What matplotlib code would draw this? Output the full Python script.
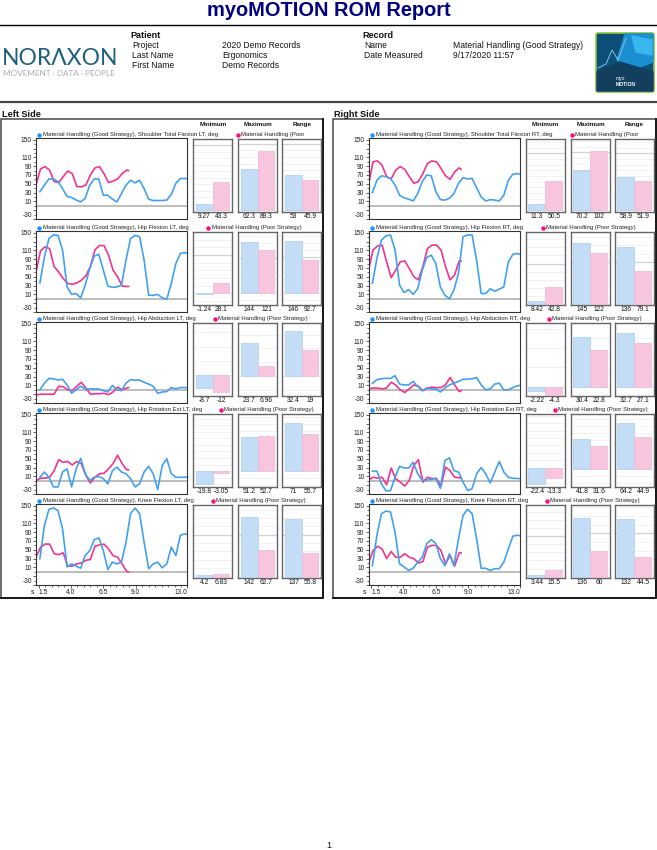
#!/usr/bin/env python3
import matplotlib
matplotlib.use("Agg")
import matplotlib.pyplot as plt
from matplotlib.patches import FancyBboxPatch, Polygon, Rectangle
from matplotlib.ticker import FixedLocator, MultipleLocator

plt.rcParams["font.family"] = ["Liberation Sans", "DejaVu Sans"]

WIDTH = 657
HEIGHT = 850

GOOD_T = [1.6, 1.95, 2.3, 2.65, 3.0, 3.35, 3.7, 4.05, 4.4, 4.75, 5.1, 5.45, 5.8, 6.15, 6.5, 6.85, 7.2,
          7.55, 7.9, 8.25, 8.6, 8.95, 9.3, 9.65, 10.0, 10.35, 10.7, 11.05, 11.4, 11.75, 12.1, 12.45, 12.8, 13.0]
POOR_T = [1.3, 1.65, 2.0, 2.35, 2.7, 3.05, 3.4, 3.75, 4.1, 4.45, 4.8, 5.15, 5.5, 5.85, 6.2, 6.55, 6.9,
          7.25, 7.6, 7.95, 8.3, 8.45]

# left side
L_SHOULDER_GOOD = [32, 47, 61, 61, 55, 39, 21, 19, 13, 9, 17, 47, 61, 61, 24, 24, 15, 9, 28, 47, 58, 52, 58, 39,
                   15, 12, 12, 12, 13, 26, 51, 62, 62, 61]
L_SHOULDER_POOR = [47, 84, 89, 81, 55, 53, 66, 79, 73, 44, 43, 47, 70, 86, 89, 73, 53, 56, 61, 73, 81, 80]
L_HIP_FLEX_GOOD = [36, 95, 137, 145, 144, 111, 27, 10, 12, 2, 31, 69, 97, 101, 65, 29, 26, 27, 31, 88, 137, 144,
                   141, 88, 8, 8, 10, 2, -1, 35, 80, 103, 105, 103]
L_HIP_FLEX_POOR = [61, 109, 118, 114, 73, 61, 46, 35, 33, 36, 42, 52, 73, 111, 121, 121, 99, 65, 50, 29, 28, 28]
L_HIP_ABD_GOOD = [0, 15, 26, 25, 22, 24, 11, -8, 0, 8, 2, 2, 2, 2, -2, -5, 10, 0, -2, 15, 23, 22, 22, 17, 13, 8,
                  -8, -5, -4, 5, 2, 5, 5, 4]
L_HIP_ABD_POOR = [-12, -10, -10, -10, -10, 8, 7, 0, -2, 8, 17, 4, -10, -9, -9, -8, -11, -5, 6, 0, 4, 5]
L_HIP_ROT_GOOD = [8, 20, 8, -14, -14, 20, 27, -14, 27, 51, 16, 1, 8, 10, 5, -7, 23, 31, 20, 16, 5, -14, -7, 20,
                  33, 16, -20, 35, 50, 16, 8, 8, 8, 9]
L_HIP_ROT_POOR = [0, 6, 6, 8, 23, 48, 42, 44, 36, 44, 39, 12, -5, 8, 16, 17, 27, 39, 58, 39, 25, 25]
L_KNEE_GOOD = [30, 105, 142, 145, 139, 98, 11, 18, 13, 8, 37, 48, 73, 77, 48, 5, 22, 18, 22, 67, 132, 145, 132,
               67, 7, 18, 22, 9, 18, 56, 37, 83, 86, 85]
L_KNEE_POOR = [33, 56, 63, 63, 41, 39, 43, 13, 13, 18, 20, 26, 28, 58, 61, 63, 52, 37, 33, 18, 1, 0]

# right side
R_SHOULDER_GOOD = [30, 58, 68, 66, 62, 47, 24, 18, 15, 11, 28, 55, 70, 68, 32, 14, 13, 17, 28, 51, 64, 61, 62, 41,
                   20, 11, 14, 13, 11, 24, 58, 72, 73, 72]
R_SHOULDER_POOR = [47, 100, 102, 92, 66, 61, 81, 89, 83, 66, 51, 55, 73, 96, 102, 100, 85, 68, 60, 77, 86, 83]
R_HIP_FLEX_GOOD = [35, 92, 133, 143, 145, 111, 31, 14, 21, 10, 23, 65, 94, 99, 80, 27, 8, 0, 20, 58, 141, 145, 145,
                   88, 12, 12, 23, 17, 22, 27, 84, 101, 103, 101]
R_HIP_FLEX_POOR = [65, 111, 120, 122, 84, 48, 65, 84, 86, 69, 50, 43, 73, 114, 122, 122, 111, 73, 43, 54, 86, 86]
R_HIP_ABD_GOOD = [15, 23, 25, 26, 26, 32, 13, 11, 11, 19, 8, -2, 4, 2, 2, -5, 4, 11, 15, 19, 24, 24, 25, 28, 11,
                  0, 2, 13, 15, 0, 0, 5, 9, 10]
R_HIP_ABD_POOR = [2, 4, 4, 2, 4, 17, 11, 0, -6, 2, 11, 8, -2, 4, 6, 5, 5, 11, 28, 11, -4, -2]
R_HIP_ROT_GOOD = [22, 22, -7, -23, -22, 8, 33, 29, 29, 42, 16, 1, 2, 3, 6, -17, 46, 52, 23, 20, -3, -22, -18, 16,
                  30, 16, -5, 20, 44, 20, 8, 6, 5, 5]
R_HIP_ROT_POOR = [2, 8, 6, 8, -9, 29, 5, -3, -12, 1, 35, 48, -3, 8, 5, 5, -12, 31, 23, 8, 7, 6]
R_KNEE_GOOD = [14, 83, 132, 138, 136, 90, 18, 11, 3, 8, 22, 33, 64, 73, 64, 30, 14, 41, 14, 75, 128, 142, 132, 75,
               8, 8, 3, 7, 7, 22, 52, 81, 83, 82]
R_KNEE_POOR = [20, 48, 58, 52, 30, 46, 33, 33, 41, 33, 30, 20, 23, 56, 60, 60, 48, 18, 37, 13, 43, 43]

ROW_NAMES_LEFT = ["Shoulder Total Flexion LT", "Hip Flexion LT", "Hip Abduction LT", "Hip Rotation Ext LT",
                  "Knee Flexion LT"]
ROW_NAMES_RIGHT = ["Shoulder Total Flexion RT", "Hip Flexion RT", "Hip Abduction RT", "Hip Rotation Ext RT",
                   "Knee Flexion RT"]

# printed min / max / range pairs under the bars
L_MIN = [(9.27, 43.3), (-1.24, 28.1), (-8.7, -12), (-19.8, -3.05), (4.2, 6.83)]
L_MAX = [(62.3, 89.3), (144, 121), (23.7, 6.96), (51.2, 52.7), (142, 62.7)]
L_RANGE = [(53, 45.9), (146, 92.7), (32.4, 19), (71, 55.7), (137, 55.8)]
R_MIN = [(11.3, 50.5), (8.42, 42.8), (-2.22, -4.3), (-22.4, -13.3), (3.44, 15.5)]
R_MAX = [(70.2, 102), (145, 122), (30.4, 22.8), (41.8, 31.6), (136, 60)]
R_RANGE = [(58.9, 51.9), (136, 79.1), (32.7, 27.1), (64.2, 44.9), (132, 44.5)]

# y limits of each bar box
L_MIN_LIM = [(-2.6, 110), (-30, 160), (-14.5, 36.6), (-24, 87), (-3.2, 170)]
L_MAX_LIM = [(-2.6, 107), (-33, 172), (-14.5, 38.4), (-23.5, 85), (-3.2, 171)]
L_RANGE_LIM = [(-2.6, 107), (-33, 171), (-14.5, 38.4), (-23, 85), (-3.2, 170)]
R_MIN_LIM = [(-3, 125), (-2.5, 178), (-4.8, 33), (-26, 72.5), (-3, 176)]
R_MAX_LIM = [(-3, 123), (-2.4, 172), (-5.5, 39), (-26, 76.6), (-3, 165)]
R_RANGE_LIM = [(-3, 125), (-2.4, 172), (-5.5, 39), (-26, 77), (-3, 165)]
GRID_STEPS = [10, 20, 10, 10, 20]

ROW_TOPS = [138, 231, 322, 413, 504]
L_POOR_DOT = [237.7, 208, 215, 221, 213]
R_POOR_DOT = [571.7, 542.7, 549, 555, 547]

Y_TICKS = [150, 130, 110, 90, 70, 50, 30, 10, -10, -30]
Y_LABELS = ["150", "", "110", "90", "70", "50", "30", "10", "", "-30"]
X_TICKS = [1.5, 4.0, 6.5, 9.0, 13.0]

GOOD_LINE = "#42a0f3"
POOR_LINE = "#f2348e"
GOOD_DOT = "#1e90ff"
POOR_DOT = "#ff0a80"
GOOD_BAR = "#c3ddf6"
POOR_BAR = "#f7c6de"
GOOD_EDGE = "#a8cdf0"
POOR_EDGE = "#efb6d4"
BOX_EDGE = "#666666"

fig = plt.figure(figsize=(WIDTH / 100, HEIGHT / 100), dpi=100, facecolor="white")


def px_axes(x0, y0, x1, y1, **kwargs):
    return fig.add_axes([x0 / WIDTH, 1 - y1 / HEIGHT, (x1 - x0) / WIDTH, (y1 - y0) / HEIGHT], **kwargs)


page = px_axes(0, 0, WIDTH, HEIGHT)
page.set_xlim(0, WIDTH)
page.set_ylim(HEIGHT, 0)
page.axis("off")


def label(x, y, text, size=6.15, **kwargs):
    kwargs.setdefault("va", "center")
    return page.text(x, y, text, fontsize=size, color=kwargs.pop("color", "#111111"), **kwargs)


def draw_header():
    label(328.5, 10.5, "myoMOTION ROM Report", size=14.4, weight="bold", color="#000080", ha="center")
    page.plot([0, WIDTH], [24.5, 24.5], color="black", lw=1.0)
    page.plot([0, WIDTH], [101.5, 101.5], color="#444444", lw=1.6)

    label(130, 35, "Patient", size=6.5, weight="bold")
    label(132, 45.5, "Project")
    label(132, 55.5, "Last Name")
    label(132, 65.5, "First Name")
    label(222, 45.5, "2020 Demo Records")
    label(222, 55.5, "Ergonomics")
    label(222, 65.5, "Demo Records")
    label(362, 35, "Record", size=6.5, weight="bold")
    label(364, 45.5, "Name")
    label(364, 55.5, "Date Measured")
    label(453, 45.5, "Material Handling (Good Strategy)")
    label(453, 55.5, "9/17/2020 11:57")

    label(2, 58, "NOR\u039bXON", size=16.5, color="#1d5f7d", family=["Lato", "DejaVu Sans"])
    label(3, 73, "MOVEMENT \u00b7 DATA \u00b7 PEOPLE", size=5.9, color="#a9adb0", family=["Lato", "DejaVu Sans"])

    # product thumbnail
    page.add_patch(FancyBboxPatch((596, 33), 58, 59, boxstyle="round,pad=0,rounding_size=2",
                                  facecolor="#0e4f78", edgecolor="#8cc63f", lw=1.2))
    page.add_patch(Polygon([(625, 34), (653, 34), (653, 62), (632, 70), (617, 60)], color="#1c8fd0"))
    page.add_patch(Polygon([(632, 36), (652, 40), (652, 55), (636, 52)], color="#38b6ee"))
    page.add_patch(Polygon([(597, 72), (620, 62), (653, 72), (653, 91), (597, 91)], color="#123f5e"))
    page.plot([598, 606, 612, 618, 626], [68, 64, 50, 60, 38], color="#7fc4ea", lw=0.7)
    label(616, 78, "myo", size=3.6, color="white")
    label(616, 84, "MOTION", size=3.6, color="white", weight="bold")

    label(328.5, 845, "1", size=6.6, ha="center")


def draw_line_chart(x0, x1, top, good, poor, last):
    ax = px_axes(x0, top, x1, top + 81)
    ax.axhline(0, color="#ababab", lw=1.1, zorder=1)
    ax.plot(POOR_T, poor, color=POOR_LINE, lw=1.2, zorder=2)
    ax.plot(GOOD_T, good, color=GOOD_LINE, lw=1.2, zorder=3)
    ax.set_xlim(1.3, 13.0)
    ax.set_ylim(-30, 154)

    ax.yaxis.set_major_locator(FixedLocator(Y_TICKS))
    ax.set_yticklabels(Y_LABELS)
    ax.tick_params(axis="y", labelsize=4.8, length=2.2, width=0.5, pad=0.8, colors="#222222")
    ax.yaxis.set_minor_locator(MultipleLocator(10))
    ax.tick_params(axis="y", which="minor", length=1.2, width=0.4)
    ax.get_yticklabels()[-1].set_va("bottom")

    if last:
        ax.set_xticks(X_TICKS)
        ax.set_xticklabels([f"{t:.1f}" for t in X_TICKS])
        ax.xaxis.set_minor_locator(MultipleLocator(0.5))
        ax.tick_params(axis="x", labelsize=4.8, length=2.4, width=0.5, pad=0.8, colors="#222222")
        ax.tick_params(axis="x", which="minor", length=1.3, width=0.4)
        ax.get_xticklabels()[0].set_ha("left")
        ax.get_xticklabels()[-1].set_ha("right")
    else:
        ax.set_xticks([])

    for spine in ax.spines.values():
        spine.set_color("#333333")
        spine.set_linewidth(0.8)


def draw_bar_box(x0, top, values, limits, step):
    ax = px_axes(x0, top + 1, x0 + 39, top + 74)
    ax.set_axisbelow(True)
    ax.bar([0, 1], values, width=1.0, color=[GOOD_BAR, POOR_BAR], edgecolor=[GOOD_EDGE, POOR_EDGE], lw=0.5, zorder=3)
    ax.set_xlim(-0.65, 1.65)
    ax.set_ylim(*limits)
    ax.yaxis.set_major_locator(MultipleLocator(step))
    ax.grid(True, axis="y", color="#f0f0f0", lw=0.6)
    if limits[1] > 100:
        ax.axhline(100, color="#d2d2d2", lw=0.9, zorder=2)
    ax.tick_params(left=False, bottom=False, labelleft=False, labelbottom=False)
    for spine in ax.spines.values():
        spine.set_color(BOX_EDGE)
        spine.set_linewidth(1.0)

    y = top + 78.5
    label(x0 + 11.5, y, f"{values[0]:g}", size=4.8, ha="center")
    label(x0 + 28.5, y, f"{values[1]:g}", size=4.8, ha="center")


def draw_side(frame_x0, frame_x1, title, x_shift, rows):
    label(frame_x0 + 0.5, 114, title, size=6.6, weight="bold")
    page.add_patch(Rectangle((frame_x0, 119), frame_x1 - frame_x0, 479, fill=False, edgecolor="#555555", lw=1.2))
    page.plot([frame_x0, frame_x1, frame_x1], [598, 598, 119], color="#111111", lw=1.3)

    x0, x1 = 36 + x_shift, 187.5 + x_shift
    box_x = [193 + x_shift, 238 + x_shift, 282 + x_shift]
    for x, name in zip(box_x, ["Minimum", "Maximum", "Range"]):
        label(x + 20, 124, name, size=4.5, weight="bold", ha="center")

    for i, row in enumerate(rows):
        top = ROW_TOPS[i]
        draw_line_chart(x0, x1, top, row["good"], row["poor"], i == len(rows) - 1)
        for x, values, limits in zip(box_x, row["bars"], row["limits"]):
            draw_bar_box(x, top, values, limits, GRID_STEPS[i])

        legend_y = top - 3.5
        page.plot(x0 + 3, legend_y, "o", color=GOOD_DOT, ms=3.2, mew=0)
        label(x0 + 7, legend_y, f"Material Handling (Good Strategy), {row['name']}, deg", size=4.35, color="#222222")
        page.plot(row["poor_dot"], legend_y, "o", color=POOR_DOT, ms=3.2, mew=0)
        text = "Material Handling (Poor" if i == 0 else "Material Handling (Poor Strategy)"
        label(row["poor_dot"] + 3.5, legend_y, text, size=4.35, color="#222222")

    label(x0 - 4, 593, "s", size=4.8, ha="center")


def build_rows(names, goods, poors, mins, maxs, ranges, min_lim, max_lim, range_lim, dots):
    rows = []
    for i in range(5):
        rows.append({
            "name": names[i],
            "good": goods[i],
            "poor": poors[i],
            "bars": [mins[i], maxs[i], ranges[i]],
            "limits": [min_lim[i], max_lim[i], range_lim[i]],
            "poor_dot": dots[i],
        })
    return rows


def main():
    draw_header()
    left_rows = build_rows(
        ROW_NAMES_LEFT,
        [L_SHOULDER_GOOD, L_HIP_FLEX_GOOD, L_HIP_ABD_GOOD, L_HIP_ROT_GOOD, L_KNEE_GOOD],
        [L_SHOULDER_POOR, L_HIP_FLEX_POOR, L_HIP_ABD_POOR, L_HIP_ROT_POOR, L_KNEE_POOR],
        L_MIN, L_MAX, L_RANGE, L_MIN_LIM, L_MAX_LIM, L_RANGE_LIM, L_POOR_DOT,
    )
    right_rows = build_rows(
        ROW_NAMES_RIGHT,
        [R_SHOULDER_GOOD, R_HIP_FLEX_GOOD, R_HIP_ABD_GOOD, R_HIP_ROT_GOOD, R_KNEE_GOOD],
        [R_SHOULDER_POOR, R_HIP_FLEX_POOR, R_HIP_ABD_POOR, R_HIP_ROT_POOR, R_KNEE_POOR],
        R_MIN, R_MAX, R_RANGE, R_MIN_LIM, R_MAX_LIM, R_RANGE_LIM, R_POOR_DOT,
    )
    draw_side(1, 323, "Left Side", 0, left_rows)
    draw_side(333, 656, "Right Side", 332.5, right_rows)
    fig.savefig("out.png", dpi=100)


if __name__ == "__main__":
    main()
